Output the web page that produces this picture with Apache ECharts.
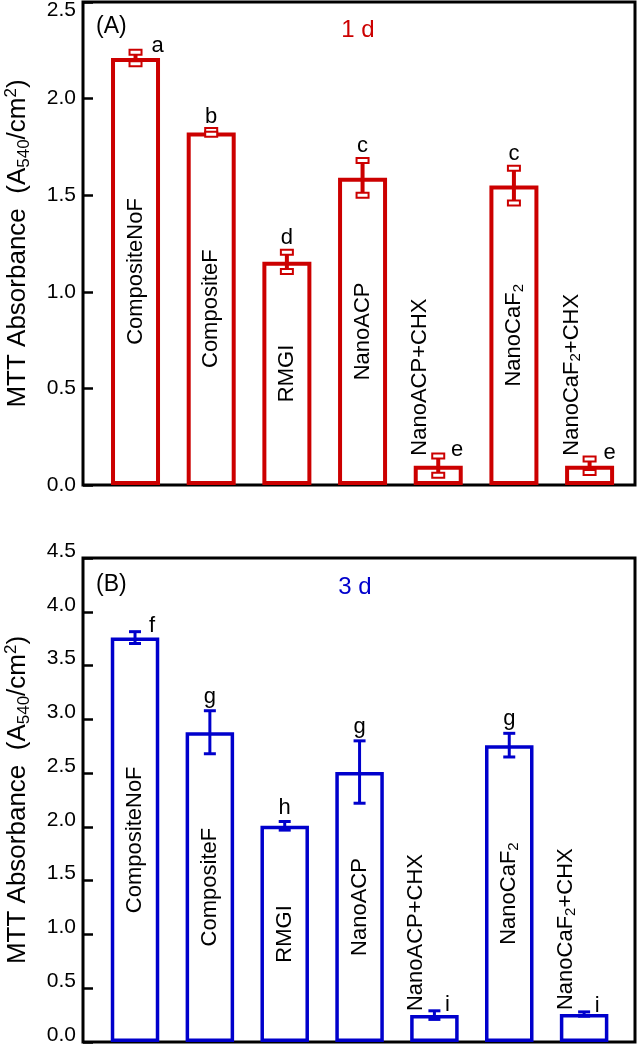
<!DOCTYPE html>
<html><head><meta charset="utf-8">
<script src="https://cdn.jsdelivr.net/npm/echarts@6.0.0/dist/echarts.min.js"></script>
<style>html,body{margin:0;padding:0;background:#fff}#c{width:637px;height:1050px}</style>
</head><body><div id="c"></div>
<script>
// ---------------- data ----------------
const categories = ['CompositeNoF', 'CompositeF', 'RMGI', 'NanoACP', 'NanoACP+CHX', 'NanoCaF2', 'NanoCaF2+CHX'];
const mean1d = [2.21, 1.825, 1.155, 1.59, 0.10, 1.55, 0.10];
const sd1d = [0.03, 0.01, 0.05, 0.09, 0.05, 0.09, 0.035];
const letters1d = ['a', 'b', 'd', 'c', 'e', 'c', 'e'];
const mean3d = [3.76, 2.88, 2.01, 2.51, 0.25, 2.76, 0.26];
const sd3d = [0.055, 0.20, 0.04, 0.29, 0.04, 0.11, 0.02];
const letters3d = ['f', 'g', 'h', 'g', 'i', 'g', 'i'];
const yTicks1d = [0.0, 0.5, 1.0, 1.5, 2.0, 2.5];
const yTicks3d = [0.0, 0.5, 1.0, 1.5, 2.0, 2.5, 3.0, 3.5, 4.0, 4.5];
const panelTitles = ['1 d', '3 d'];
const panelTags = ['(A)', '(B)'];

// ---------------- layout / style ----------------
const FONT = 'Liberation Sans, Arial, sans-serif';
const RED = '#cc0000', BLUE = '#0000cc';
const panels = [
  { mean: mean1d, sd: sd1d, letters: letters1d, ticks: yTicks1d, color: RED,
    top: 2, height: 483, xMin: -0.694, xMax: 6.60, barW: 49, borderW: 4, errW: 4,
    hollowCap: true, outDist: 10, letterDx: [22, 0, 0, 0, 19, 0, 20], labelShift: { '2.5': 8 },
    tagY: 27, titleY: 30, titleX: 358 },
  { mean: mean3d, sd: sd3d, letters: letters3d, ticks: yTicks3d, color: BLUE,
    top: 558, height: 484, xMin: -0.695, xMax: 6.68, barW: 48.5, borderW: 3.5, errW: 3,
    hollowCap: false, outDist: 4, letterDx: [17, 0, 0, 0, 13, 0, 13], labelShift: 'up',
    tagY: 585, titleY: 587, titleX: 355 }
];

function catLabel(name) {
  if (name.indexOf('CaF2') >= 0) {
    const parts = name.split('CaF2');
    return '{t|' + parts[0] + 'CaF}{s|2}' + (parts[1] ? '{t|' + parts[1] + '}' : '');
  }
  return '{t|' + name + '}';
}
const catRich = {
  t: { fontSize: 22, fontFamily: FONT, color: '#000', lineHeight: 24 },
  s: { fontSize: 15, fontFamily: FONT, color: '#000', lineHeight: 15, verticalAlign: 'bottom' }
};
const nameRich = {
  t: { fontSize: 26, fontFamily: FONT, color: '#000', lineHeight: 30 },
  s: { fontSize: 17, fontFamily: FONT, color: '#000', lineHeight: 17, verticalAlign: 'bottom' },
  p: { fontSize: 17, fontFamily: FONT, color: '#000', lineHeight: 17, verticalAlign: 'top' }
};
const yNameRich = '{t|MTT Absorbance  (A}{s|540}{t|/cm}{p|2}{t|)}';

const grids = [], xAxes = [], yAxes = [], series = [], graphics = [];
panels.forEach((p, k) => {
  const maxV = Math.max.apply(null, p.mean);
  const tmin = p.ticks[0], tmax = p.ticks[p.ticks.length - 1];
  grids.push({ left: 83, top: p.top, width: 552, height: p.height, show: true,
    borderColor: '#000', borderWidth: 3, backgroundColor: 'transparent',
    containLabel: false, outerBoundsMode: 'none' });
  xAxes.push({ gridIndex: k, type: 'value', min: p.xMin, max: p.xMax, show: false,
    axisLine: { show: false, onZero: false }, axisTick: { show: false },
    axisLabel: { show: false }, splitLine: { show: false } });
  yAxes.push({
    gridIndex: k, type: 'value', min: tmin, max: tmax, interval: p.ticks[1] - p.ticks[0],
    position: 'left',
    axisLine: { show: false, onZero: false },
    axisTick: { show: true, inside: true, length: 10, lineStyle: { color: '#000', width: 2.5 } },
    splitLine: { show: false },
    axisLabel: {
      show: true, margin: 7, fontSize: 21, fontFamily: FONT, color: '#000',
      showMinLabel: true, showMaxLabel: true, hideOverlap: false,
      formatter: v => {
        const s = v.toFixed(1);
        if (p.labelShift === 'up') return '{u|' + s + '}';
        if (p.labelShift[s]) return '{d|' + s + '}';
        return '{n|' + s + '}';
      },
      rich: {
        n: { fontSize: 21, fontFamily: FONT, color: '#000' },
        u: { fontSize: 21, fontFamily: FONT, color: '#000', padding: [0, 0, 14, 0] },
        d: { fontSize: 21, fontFamily: FONT, color: '#000', padding: [16, 0, 0, 0] }
      }
    },
    name: yNameRich, nameLocation: 'middle', nameGap: 50, nameMoveOverlap: false,
    nameTextStyle: { rich: nameRich }
  });
  // bars
  series.push({
    type: 'bar', xAxisIndex: k, yAxisIndex: k, barWidth: p.barW, z: 2,
    itemStyle: { color: '#fff', borderColor: p.color, borderWidth: p.borderW },
    label: { show: true, position: 'inside', rotate: 90, color: '#000',
      textBorderWidth: 0, formatter: prm => catLabel(categories[prm.dataIndex]), rich: catRich },
    emphasis: { disabled: true },
    data: p.mean.map((v, i) => {
      const item = { value: [i, v] };
      if (v < 0.25 * maxV) {
        item.label = { position: 'top', distance: p.outDist, rotate: 90, align: 'left',
          verticalAlign: 'middle', offset: [0, -18] };
      }
      return item;
    })
  });
  // error bars + significance letters
  series.push({
    type: 'custom', xAxisIndex: k, yAxisIndex: k, z: 5, silent: true,
    data: p.mean.map((v, i) => [i, v, p.sd[i]]),
    renderItem: (params, api) => {
      const x = api.value(0), m = api.value(1), s = api.value(2);
      const hi = api.coord([x, m + s]), lo = api.coord([x, m - s]);
      const cx = hi[0];
      const ch = [{ type: 'line', shape: { x1: cx, y1: hi[1], x2: cx, y2: lo[1] },
        style: { stroke: p.color, lineWidth: p.errW } }];
      [hi[1], lo[1]].forEach(y => {
        if (p.hollowCap) {
          ch.push({ type: 'rect', shape: { x: cx - 6, y: y - 2.5, width: 12, height: 5 },
            style: { fill: '#fff', stroke: p.color, lineWidth: 2 } });
        } else {
          ch.push({ type: 'line', shape: { x1: cx - 6, y1: y, x2: cx + 6, y2: y },
            style: { stroke: p.color, lineWidth: 3 } });
        }
      });
      const dx = p.letterDx[params.dataIndex];
      ch.push({ type: 'text', x: cx + dx, y: hi[1] + (dx ? 5 : -3),
        style: { text: p.letters[params.dataIndex], fill: '#000', fontSize: 22,
          fontFamily: FONT, align: 'center', verticalAlign: 'bottom' } });
      return { type: 'group', children: ch };
    }
  });
  graphics.push({ type: 'text', x: 96, y: p.tagY,
    style: { text: panelTags[k], fill: '#000', fontSize: 23, fontFamily: FONT, align: 'left', verticalAlign: 'middle' } });
  graphics.push({ type: 'text', x: p.titleX, y: p.titleY,
    style: { text: panelTitles[k], fill: p.color, fontSize: 24, fontFamily: FONT, align: 'center', verticalAlign: 'middle' } });
});

const chart = echarts.init(document.getElementById('c'), null, { renderer: 'canvas' });
chart.setOption({
  animation: false,
  backgroundColor: '#fff',
  grid: grids, xAxis: xAxes, yAxis: yAxes, series: series, graphic: graphics
});
</script>
</body></html>
